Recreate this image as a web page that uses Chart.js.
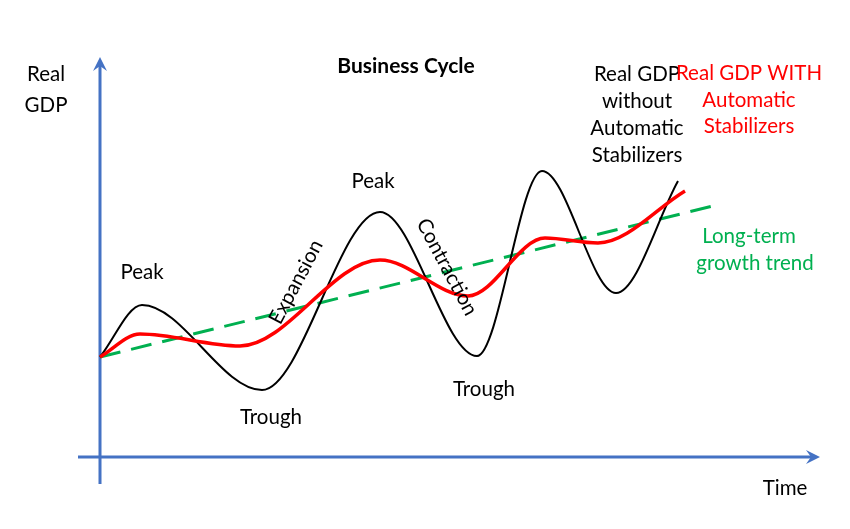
<!DOCTYPE html>
<html>
<head>
<meta charset="utf-8">
<script src="https://cdn.jsdelivr.net/npm/chart.js@4"></script>
<style>
  html, body { margin: 0; padding: 0; background: #fff; }
</style>
</head>
<body>
<canvas id="cycle" width="850" height="529"></canvas>
<script>
// time (arbitrary units) and real GDP (arbitrary units)
const blackTime = [0, 4.2, 16.2, 28.0, 37.7, 44.2, 51.6, 57.8];
const blackGdp  = [10.0, 15.2, 6.7, 24.5, 10.1, 28.6, 16.4, 27.6];
const redTime   = [0, 4.0, 14.0, 28.0, 36.8, 44.5, 49.8, 58.5];
const redGdp    = [10.0, 12.3, 11.1, 19.7, 16.1, 21.9, 21.4, 26.6];
const trendTime = [0, 61.3];
const trendGdp  = [10.0, 25.1];

const toPoints = (xs, ys) => xs.map((x, i) => ({ x: x, y: ys[i] }));

// annotation labels: text, time, gdp, colour, rotation (deg), bold
const labels = [
    ['Real', -5.4, 45.7 - 7.4, '#000', 0],
    ['GDP', -5.4, 45.7 - 10.5, '#000', 0],
    ['Business Cycle', 30.6, 45.7 - 6.6, '#000', 0, true],
    ['Peak', 4.2, 45.7 - 27.2, '#000', 0],
    ['Peak', 27.3, 45.7 - 18.1, '#000', 0],
    ['Trough', 17.1, 45.7 - 41.7, '#000', 0],
    ['Trough', 38.4, 45.7 - 38.9, '#000', 0],
    ['Expansion', 19.6, 45.7 - 28.2, '#000', -62],
    ['Contraction', 34.7, 45.7 - 26.7, '#000', 62],
    ['Real GDP', 53.7, 45.7 - 7.4, '#000', 0],
    ['without', 53.7, 45.7 - 10.1, '#000', 0],
    ['Automatic', 53.7, 45.7 - 12.8, '#000', 0],
    ['Stabilizers', 53.7, 45.7 - 15.5, '#000', 0],
    ['Real GDP WITH', 64.9, 45.7 - 7.3, '#ff0000', 0],
    ['Automatic', 64.9, 45.7 - 10.0, '#ff0000', 0],
    ['Stabilizers', 64.9, 45.7 - 12.6, '#ff0000', 0],
    ['Long-term', 64.9, 45.7 - 23.6, '#00b050', 0],
    ['growth trend', 65.5, 45.7 - 26.3, '#00b050', 0],
    ['Time', 68.5, 45.7 - 48.8, '#000', 0]
];

const axesPlugin = {
    id: 'axesPlugin',
    beforeDatasetsDraw(chart) {
        const ctx = chart.ctx;
        const xs = chart.scales.x;
        const ys = chart.scales.y;
        const ox = xs.getPixelForValue(0);
        const oy = ys.getPixelForValue(0);
        const yTop = ys.getPixelForValue(40.0);
        const yBot = ys.getPixelForValue(-2.7);
        const xLeft = xs.getPixelForValue(-2.2);
        const xRight = xs.getPixelForValue(72.0);
        ctx.save();
        ctx.strokeStyle = '#4472c4';
        ctx.fillStyle = '#4472c4';
        ctx.lineWidth = 3;
        ctx.beginPath();
        ctx.moveTo(ox, yBot);
        ctx.lineTo(ox, yTop + 4);
        ctx.moveTo(xLeft, oy);
        ctx.lineTo(xRight - 4, oy);
        ctx.stroke();
        // arrow heads
        ctx.beginPath();
        ctx.moveTo(ox, yTop);
        ctx.lineTo(ox - 7, yTop + 14);
        ctx.lineTo(ox, yTop + 9);
        ctx.lineTo(ox + 7, yTop + 14);
        ctx.closePath();
        ctx.fill();
        ctx.beginPath();
        ctx.moveTo(xRight, oy);
        ctx.lineTo(xRight - 14, oy - 7);
        ctx.lineTo(xRight - 9, oy);
        ctx.lineTo(xRight - 14, oy + 7);
        ctx.closePath();
        ctx.fill();
        ctx.restore();
    },
    afterDatasetsDraw(chart) {
        const ctx = chart.ctx;
        const xs = chart.scales.x;
        const ys = chart.scales.y;
        ctx.save();
        ctx.textAlign = 'center';
        ctx.textBaseline = 'middle';
        labels.forEach(([text, t, g, color, rot, bold]) => {
            ctx.save();
            ctx.translate(xs.getPixelForValue(t), ys.getPixelForValue(g));
            ctx.rotate(rot * Math.PI / 180);
            ctx.fillStyle = color;
            ctx.font = bold ? 'bold 21px Lato' : '20.5px Lato';
            ctx.fillText(text, 0, 0);
            ctx.restore();
        });
        ctx.restore();
    }
};

new Chart(document.getElementById('cycle').getContext('2d'), {
    type: 'line',
    data: {
        datasets: [
            {
                label: 'Long-term growth trend',
                data: toPoints(trendTime, trendGdp),
                borderColor: '#00b050',
                borderWidth: 3,
                borderDash: [21, 11],
                pointRadius: 0,
                order: 3
            },
            {
                label: 'Real GDP without Automatic Stabilizers',
                data: toPoints(blackTime, blackGdp),
                borderColor: '#000000',
                borderWidth: 2,
                cubicInterpolationMode: 'monotone',
                pointRadius: 0,
                order: 2
            },
            {
                label: 'Real GDP WITH Automatic Stabilizers',
                data: toPoints(redTime, redGdp),
                borderColor: '#ff0000',
                borderWidth: 3.5,
                cubicInterpolationMode: 'monotone',
                pointRadius: 0,
                order: 1
            }
        ]
    },
    options: {
        responsive: false,
        animation: false,
        layout: { padding: 0 },
        plugins: {
            legend: { display: false },
            tooltip: { enabled: false },
            title: { display: false }
        },
        scales: {
            x: { type: 'linear', min: -10, max: 75, display: false },
            y: { type: 'linear', min: -7.2, max: 45.7, display: false }
        }
    },
    plugins: [axesPlugin]
});
</script>
</body>
</html>
